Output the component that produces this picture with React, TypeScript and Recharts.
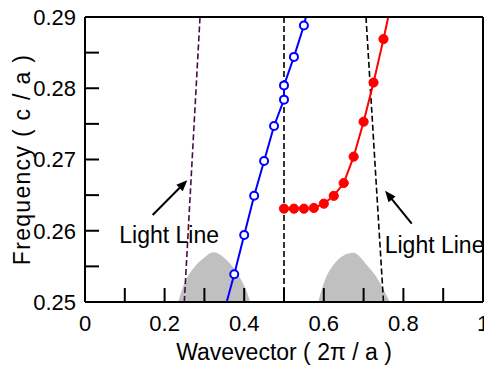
import React from 'react';
import {
  ComposedChart, XAxis, YAxis, Line, Area, Scatter, ReferenceLine, ReferenceDot,
} from 'recharts';

const FONT = '"Liberation Sans", Arial, Helvetica, sans-serif';

// Dispersion bands (wavevector, frequency)
const blueMarkers = [
  { x: 0.375, y: 0.2539 }, { x: 0.4, y: 0.2594 }, { x: 0.425, y: 0.2649 },
  { x: 0.45, y: 0.2698 }, { x: 0.475, y: 0.2747 }, { x: 0.5, y: 0.2784 },
  { x: 0.5, y: 0.2804 }, { x: 0.525, y: 0.2844 }, { x: 0.55, y: 0.2888 },
];
const bluePath = [{ x: 0.356, y: 0.25 }, ...blueMarkers, { x: 0.555, y: 0.29 }];

const redMarkers = [
  { x: 0.5, y: 0.2631 }, { x: 0.525, y: 0.2631 }, { x: 0.55, y: 0.2631 },
  { x: 0.575, y: 0.2632 }, { x: 0.6, y: 0.2638 }, { x: 0.625, y: 0.2649 },
  { x: 0.65, y: 0.2667 }, { x: 0.675, y: 0.2704 }, { x: 0.7, y: 0.2753 },
  { x: 0.725, y: 0.2808 }, { x: 0.75, y: 0.2869 },
];
const redPath = [...redMarkers, { x: 0.762, y: 0.29 }];

// Light lines
const lightLineLeft = [{ x: 0.2495, y: 0.25 }, { x: 0.289, y: 0.29 }];
const lightLineRight = [{ x: 0.706, y: 0.29 }, { x: 0.75, y: 0.25 }];
const zoneEdge = [{ x: 0.5, y: 0.25 }, { x: 0.5, y: 0.29 }];

// Grey continuum humps
const humpLeft = [
  { x: 0.234, y: 0.25 }, { x: 0.251, y: 0.2528 }, { x: 0.272, y: 0.2547 },
  { x: 0.297, y: 0.2561 }, { x: 0.322, y: 0.257 }, { x: 0.356, y: 0.2559 },
  { x: 0.385, y: 0.2538 }, { x: 0.408, y: 0.2512 }, { x: 0.415, y: 0.25 },
];
const humpRight = [
  { x: 0.586, y: 0.25 }, { x: 0.603, y: 0.2531 }, { x: 0.624, y: 0.2552 },
  { x: 0.649, y: 0.2565 }, { x: 0.674, y: 0.2569 }, { x: 0.708, y: 0.2552 },
  { x: 0.737, y: 0.2531 }, { x: 0.766, y: 0.25 },
];

const xTicks = [0, 0.1, 0.2, 0.3, 0.4, 0.5, 0.6, 0.7, 0.8, 0.9, 1];
const yTicks = [0.25, 0.255, 0.26, 0.265, 0.27, 0.275, 0.28, 0.285, 0.29];

const xFmt = (v: number) => {
  const t = Math.round(v * 10);
  return t % 2 === 0 ? String(t / 10) : '';
};
const yFmt = (v: number) => {
  const t = Math.round(v * 1000);
  return t % 10 === 0 ? (t / 1000).toFixed(2) : '';
};

const axisLine = { stroke: '#000', strokeWidth: 2 };
const tickLine = { stroke: '#000', strokeWidth: 2 };
const tickStyle = { fill: '#000', fontSize: 22, fontFamily: FONT };

const arrowShape = (p: any) => {
  const { x1, y1, x2, y2 } = p;
  const dx = x2 - x1, dy = y2 - y1;
  const len = Math.sqrt(dx * dx + dy * dy) || 1;
  const ux = dx / len, uy = dy / len;
  const hl = 11, hw = 4.5;
  const bx = x2 - ux * hl, by = y2 - uy * hl;
  const pts = `${x2},${y2} ${bx - uy * hw},${by + ux * hw} ${bx + uy * hw},${by - ux * hw}`;
  return (
    <g>
      <line x1={x1} y1={y1} x2={bx + ux * 2} y2={by + uy * 2} stroke="#000" strokeWidth={2} />
      <polygon points={pts} fill="#000" />
    </g>
  );
};

const textShape = (label: string) => (p: any) => (
  <text x={p.cx} y={p.cy} fill="#000" fontSize={23} fontFamily={FONT}>{label}</text>
);

const openCircle = (p: any) => (
  <circle cx={p.cx} cy={p.cy} r={4} fill="#fff" stroke="#0000ff" strokeWidth={2} />
);
const filledCircle = (p: any) => (
  <circle cx={p.cx} cy={p.cy} r={4.6} fill="#ff0000" stroke="#ff0000" strokeWidth={1} />
);

export default function App() {
  return (
    <div style={{ position: 'absolute', left: 0, top: 0, width: 484, height: 369, background: '#fff' }}>
      <ComposedChart width={484} height={369} margin={{ top: 0, right: 0, bottom: 0, left: 0 }}>
        <XAxis
          xAxisId={0} dataKey="x" type="number" domain={[0, 1]} ticks={xTicks} interval={0}
          allowDataOverflow height={67} axisLine={axisLine} tickLine={tickLine}
          tickSize={-14} tickMargin={27} tick={tickStyle} tickFormatter={xFmt}
          label={{
            content: (lp: any) => {
              const vb = lp.viewBox || { x: 85, y: 302, width: 398, height: 67 };
              return (
                <text x={vb.x + vb.width / 2} y={360} textAnchor="middle" fill="#000" fontSize={23} fontFamily={FONT}>
                  Wavevector ( 2π / a )
                </text>
              );
            },
          }}
        />
        <XAxis
          xAxisId="top" orientation="top" type="number" domain={[0, 1]} ticks={xTicks} interval={0}
          allowDataOverflow height={17} axisLine={axisLine} tickLine={tickLine} tickSize={-14} tick={false}
        />
        <YAxis
          yAxisId={0} dataKey="y" type="number" domain={[0.25, 0.29]} ticks={yTicks} interval={0}
          allowDataOverflow width={85} axisLine={axisLine} tickLine={tickLine}
          tickSize={-14} tickMargin={23} tick={tickStyle} tickFormatter={yFmt}
          label={{
            content: (lp: any) => {
              const vb = lp.viewBox || { x: 0, y: 17, width: 85, height: 285 };
              const cy = vb.y + vb.height / 2;
              return (
                <text x={29.5} y={cy} transform={`rotate(-90, 29.5, ${cy})`} textAnchor="middle"
                  fill="#000" fontSize={23} fontFamily={FONT} letterSpacing={1.3}>
                  Frequency ( c / a )
                </text>
              );
            },
          }}
        />
        <YAxis
          yAxisId="right" orientation="right" type="number" domain={[0.25, 0.29]} ticks={yTicks} interval={0}
          allowDataOverflow width={1} axisLine={axisLine} tickLine={tickLine} tickSize={-14} tick={false}
        />

        <Area data={humpLeft} dataKey="y" type="monotone" stroke="none" fill="#c0c0c0" fillOpacity={1} isAnimationActive={false} />
        <Area data={humpRight} dataKey="y" type="monotone" stroke="none" fill="#c0c0c0" fillOpacity={1} isAnimationActive={false} />

        <Line data={lightLineLeft} dataKey="y" type="linear" stroke="#4a0a4a" strokeWidth={1.6} strokeDasharray="6 3" dot={false} isAnimationActive={false} />
        <Line data={zoneEdge} dataKey="y" type="linear" stroke="#000" strokeWidth={1.6} strokeDasharray="6 3" dot={false} isAnimationActive={false} />
        <Line data={lightLineRight} dataKey="y" type="linear" stroke="#000" strokeWidth={1.6} strokeDasharray="6 3" dot={false} isAnimationActive={false} />

        <Line data={bluePath} dataKey="y" type="linear" stroke="#0000ff" strokeWidth={2} dot={false} isAnimationActive={false} />
        <Scatter data={blueMarkers} dataKey="y" shape={openCircle} isAnimationActive={false} />
        <Line data={redPath} dataKey="y" type="linear" stroke="#ff0000" strokeWidth={2} dot={false} isAnimationActive={false} />
        <Scatter data={redMarkers} dataKey="y" shape={filledCircle} isAnimationActive={false} />

        <ReferenceLine segment={[{ x: 0.17, y: 0.2622 }, { x: 0.257, y: 0.2671 }]} shape={arrowShape} />
        <ReferenceLine segment={[{ x: 0.821, y: 0.261 }, { x: 0.754, y: 0.2656 }]} shape={arrowShape} />
        <ReferenceDot x={0.0862} y={0.2583} r={0} shape={textShape('Light Line')} />
        <ReferenceDot x={0.753} y={0.2569} r={0} shape={textShape('Light Line')} />
      </ComposedChart>
    </div>
  );
}
